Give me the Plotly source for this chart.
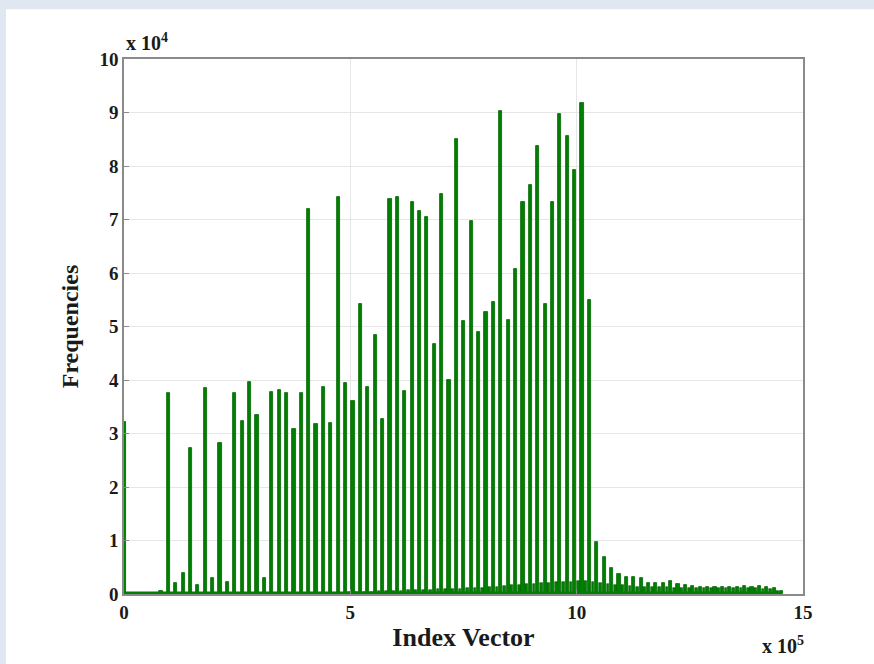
import plotly.graph_objects as go

# ---- data (x in units of 1e5, y in units of 1e4) ----
bin_step = 0.1632          # spacing between histogram bins (x 10^5)
main_heights = [
    3.22, 0.0, 0.0, 0.0, 0.0, 0.05, 3.75, 0.20, 0.40, 2.73,
    0.17, 3.85, 0.30, 2.82, 0.22, 3.75, 3.23, 3.97, 3.35, 0.30,
    3.77, 3.82, 3.76, 3.08, 3.76, 7.20, 3.17, 3.86, 3.20, 7.42,
    3.95, 3.60, 5.42, 3.86, 4.85, 3.27, 7.38, 7.42, 3.80, 7.33,
    7.15, 7.05, 4.67, 7.47, 4.00, 8.50, 5.10, 6.98, 4.90, 5.28,
    5.46, 9.02, 5.12, 6.08, 7.33, 7.65, 8.38, 5.42, 7.33, 8.97,
    8.57, 7.93, 9.18, 5.50, 0.98, 0.70, 0.48, 0.37, 0.31, 0.31,
    0.30, 0.21, 0.20, 0.21, 0.24, 0.19, 0.17, 0.15, 0.14, 0.13,
    0.14, 0.13, 0.14, 0.14, 0.15, 0.14, 0.15, 0.14, 0.11, 0.06,
]
minor_start = 30
minor_heights = [
    0.03, 0.03, 0.04, 0.04, 0.05, 0.05, 0.06, 0.06, 0.07, 0.07,
    0.08, 0.08, 0.09, 0.09, 0.10, 0.10, 0.11, 0.11, 0.12, 0.13,
    0.14, 0.15, 0.16, 0.17, 0.18, 0.19, 0.20, 0.21, 0.22, 0.23,
    0.23, 0.24, 0.24, 0.22, 0.20, 0.18, 0.17, 0.16, 0.15, 0.14,
    0.14, 0.13, 0.13, 0.13, 0.12, 0.12, 0.12, 0.12, 0.11, 0.11,
    0.11, 0.11, 0.11, 0.11, 0.11, 0.11, 0.10, 0.09, 0.06,
]
x_ticks = [0, 5, 10, 15]
y_ticks = [0, 1, 2, 3, 4, 5, 6, 7, 8, 9, 10]

main_x = [i * bin_step for i in range(len(main_heights))]
minor_x = [(minor_start + i + 0.5) * bin_step for i in range(len(minor_heights))]

GREEN = "#008000"
EDGE = "#006400"
FONT = "Liberation Serif"

fig = go.Figure()
fig.add_trace(go.Bar(x=minor_x, y=minor_heights, width=0.06,
                     marker=dict(color=GREEN, line=dict(color=EDGE, width=0.6)),
                     showlegend=False))
fig.add_trace(go.Bar(x=main_x, y=main_heights, width=0.07,
                     marker=dict(color=GREEN, line=dict(color=EDGE, width=0.8)),
                     showlegend=False))
fig.add_trace(go.Scatter(x=[main_x[0], main_x[-1]], y=[0, 0], mode="lines",
                         line=dict(color=GREEN, width=5), showlegend=False,
                         hoverinfo="skip"))

axis_common = dict(
    showline=True, linecolor="#8a8a8a", linewidth=1.5, mirror=True,
    ticks="inside", ticklen=5, tickcolor="#8a8a8a", tickwidth=1,
    showgrid=True, gridcolor="#e6e6e6", gridwidth=1, zeroline=False,
    tickfont=dict(family=FONT, size=19, color="#1a1a1a"),
)

fig.update_layout(
    width=874, height=664,
    margin=dict(l=124, r=71, t=59, b=70),
    paper_bgcolor="white", plot_bgcolor="white",
    barmode="overlay", bargap=0,
    font=dict(family=FONT, color="#1a1a1a"),
    xaxis=dict(range=[0, 15], tickvals=x_ticks, ticktext=[f"<b>{v}</b>" for v in x_ticks],
               title=dict(text="<b>Index Vector</b>", font=dict(family=FONT, size=26), standoff=6),
               **axis_common),
    yaxis=dict(range=[0, 10], tickvals=y_ticks, ticktext=[f"<b>{v}</b>" for v in y_ticks],
               title=dict(text="<b>Frequencies</b>", font=dict(family=FONT, size=24), standoff=14),
               **axis_common),
    annotations=[
        dict(text="<b>x 10<sup>4</sup></b>", xref="paper", yref="paper", x=0.0, y=1.005,
             xanchor="left", yanchor="bottom", showarrow=False,
             font=dict(family=FONT, size=20, color="#1a1a1a")),
        dict(text="<b>x 10<sup>5</sup></b>", xref="paper", yref="paper", x=1.005, y=-0.07,
             xanchor="right", yanchor="top", showarrow=False,
             font=dict(family=FONT, size=20, color="#1a1a1a")),
    ],
    shapes=[
        dict(type="rect", xref="paper", yref="paper", x0=-0.19, x1=1.11, y0=1.093, y1=1.12,
             fillcolor="#e1e7f1", line=dict(width=0), layer="below"),
        dict(type="rect", xref="paper", yref="paper", x0=-0.19, x1=-0.1738, y0=-0.14, y1=1.12,
             fillcolor="#e1e7f1", line=dict(width=0), layer="below"),
    ],
)

fig.write_html("out.html", config={"displayModeBar": False},
               post_script="document.body.style.margin='0';document.body.style.overflow='hidden';")
